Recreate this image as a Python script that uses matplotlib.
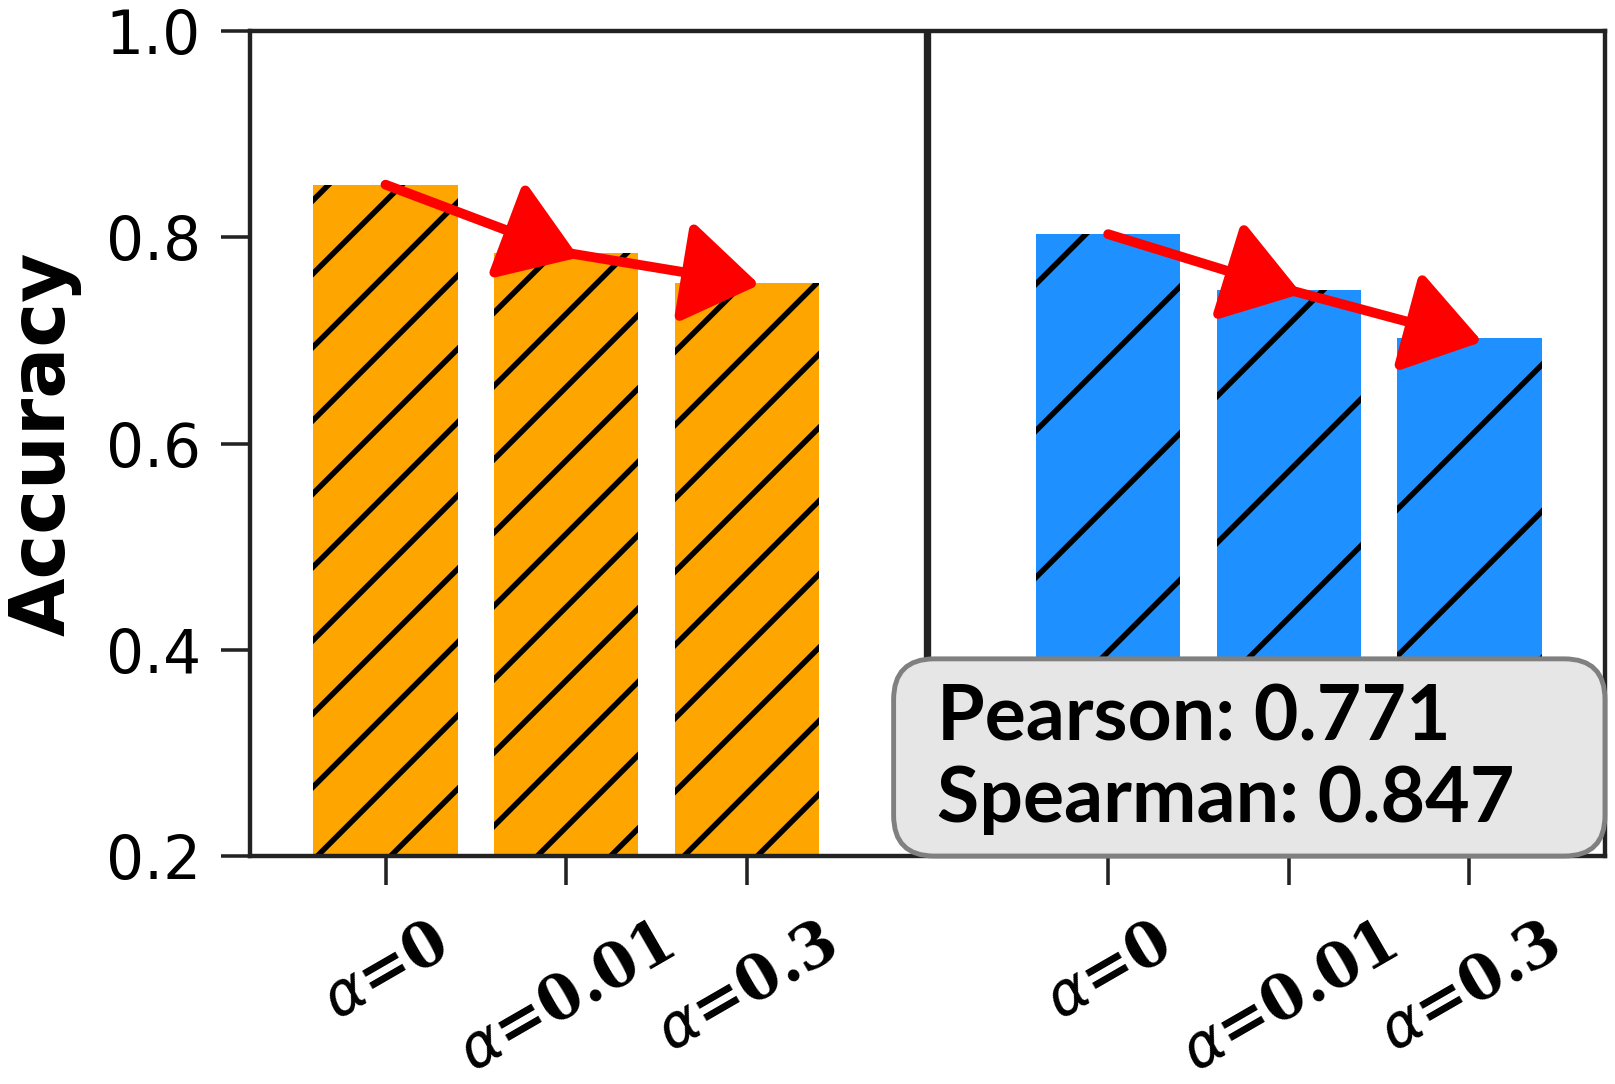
import numpy as np
import matplotlib
matplotlib.use('Agg')
import matplotlib.pyplot as plt
from matplotlib.patches import FancyBboxPatch

# values
alpha_labels = [r'$\alpha$=0', r'$\alpha$=0.01', r'$\alpha$=0.3']
acc_left = [0.851, 0.785, 0.756]
acc_right = [0.803, 0.749, 0.702]
stats = [('Pearson', 0.771), ('Spearman', 0.847)]

DPI = 880  # high dpi keeps the hatch spacing as coarse as the original
plt.rcParams['hatch.linewidth'] = 0.45

fig = plt.figure(figsize=(1615 / DPI, 1084 / DPI), dpi=DPI)
ax = fig.add_axes([0.1548, 0.2103, 0.9938 - 0.1548, 0.9714 - 0.2103])

x_left = np.arange(len(acc_left))
x_right = np.arange(len(acc_right)) + len(acc_left) + 1

ax.bar(x_left, acc_left, width=0.8, color='#FFA500', hatch='////', edgecolor='black', linewidth=0)
ax.bar(x_right, acc_right, width=0.8, color='#1E90FF', hatch='//', edgecolor='black', linewidth=0)

# trend arrows from one bar top to the next
for xs, ys in [(x_left, acc_left), (x_right, acc_right)]:
    for i in range(len(xs) - 1):
        dx = xs[i + 1] - xs[i]
        dy = ys[i + 1] - ys[i]
        ax.annotate('', xy=(xs[i] + 1.07 * dx, ys[i] + 1.07 * dy), xytext=(xs[i], ys[i]),
                    arrowprops=dict(arrowstyle='-|>,head_length=0.4,head_width=0.27',
                                    color='red', lw=0.8, mutation_scale=13.3,
                                    shrinkA=0, shrinkB=0), zorder=4)

# divider between the two groups
ax.axvline(len(acc_left), color='#222222', lw=0.6)

ax.set_xlim(-0.75, x_right[-1] + 0.75)
ax.set_ylim(0.2, 1.0)
ax.set_yticks([0.2, 0.4, 0.6, 0.8, 1.0])
ax.set_xticks(list(x_left) + list(x_right))
ax.set_xticklabels(alpha_labels * 2, rotation=30, ha='center', fontsize=5.0,
                   fontweight='bold', family='DejaVu Serif')
for lab in ax.get_yticklabels():
    lab.set_fontsize(4.9)
ax.tick_params(width=0.29, length=2.4, color='#222222')
ax.tick_params(axis='y', pad=1.6)
ax.tick_params(axis='x', pad=2.3)
for sp in ax.spines.values():
    sp.set_linewidth(0.36)
    sp.set_color('#222222')

ax.set_ylabel('Accuracy', fontsize=6.2, fontweight='bold', labelpad=2.0)

# correlation box in the lower right corner
ax_w = (0.9938 - 0.1548) * 1615
ax_h = (0.9714 - 0.2103) * 1084
box = FancyBboxPatch((0.475, 0.0), 0.525, 0.239,
                     boxstyle='round,pad=0,rounding_size=0.03',
                     mutation_aspect=ax_w / ax_h,
                     transform=ax.transAxes, facecolor='#e6e6e6',
                     edgecolor='#808080', linewidth=0.4, zorder=5, clip_on=False)
ax.add_patch(box)
for k, (name, val) in enumerate(stats):
    ax.text(0.507, 0.1406 - k * 0.0995, f'{name}: {val:.3f}', transform=ax.transAxes,
            ha='left', va='baseline', fontsize=6.3, fontweight='bold',
            family=['Lato', 'DejaVu Sans'], zorder=6)

fig.savefig('out.png', dpi=DPI)
